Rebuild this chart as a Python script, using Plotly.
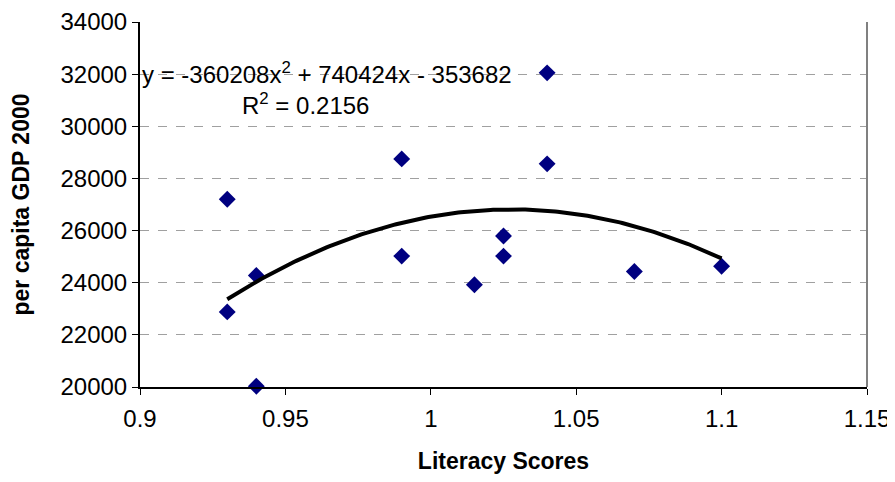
import numpy as np
import plotly.graph_objects as go

literacy = [0.93, 0.93, 0.94, 0.94, 0.99, 0.99, 1.015, 1.025, 1.025, 1.04, 1.04, 1.07, 1.10]
gdp = [27200, 22880, 24280, 20030, 28750, 25020, 23920, 25790, 25020, 28560, 32050, 24430, 24630]

coef = [-360208, 740424, -353682]
fit_x = np.linspace(min(literacy), max(literacy), 200)
fit_y = np.polyval(coef, fit_x)

x_ticks = [0.9, 0.95, 1.0, 1.05, 1.1, 1.15]
x_tick_labels = ["0.9", "0.95", "1", "1.05", "1.1", "1.15"]
y_ticks = list(range(20000, 34001, 2000))
y_tick_labels = [str(v) for v in y_ticks]

FONT = "Liberation Sans, Arial, sans-serif"

fig = go.Figure()
fig.add_trace(go.Scatter(x=literacy, y=gdp, mode="markers",
                         marker=dict(symbol="diamond", size=13, color="#000080"),
                         showlegend=False, cliponaxis=False))
fig.add_trace(go.Scatter(x=fit_x, y=fit_y, mode="lines",
                         line=dict(color="black", width=4), showlegend=False))

fig.update_layout(
    width=887, height=466,
    margin=dict(l=132, r=28, t=14, b=87),
    paper_bgcolor="white", plot_bgcolor="white",
    font=dict(family=FONT, size=24, color="black"),
    xaxis=dict(range=[0.9, 1.15], tickvals=x_ticks, ticktext=x_tick_labels,
               tickfont=dict(family=FONT, size=24, color="black"),
               automargin=False, ticklabelstandoff=3,
               showgrid=False, zeroline=False, showline=True, linecolor="black", linewidth=2,
               ticks="outside", ticklen=6, tickcolor="black",
               title=dict(text="<b>Literacy Scores</b>", font=dict(family=FONT, size=23, color="black"), standoff=31)),
    yaxis=dict(range=[20000, 34000], tickvals=y_ticks, ticktext=y_tick_labels,
               tickfont=dict(family=FONT, size=24, color="black"),
               automargin=False,
               showgrid=True, gridcolor="#a0a0a0", griddash="dash", gridwidth=1,
               zeroline=False, showline=True, linecolor="black", linewidth=2,
               ticks="outside", ticklen=6, tickcolor="black",
               title=dict(text="<b>per capita GDP 2000</b>", font=dict(family=FONT, size=23, color="black"), standoff=33)),
    shapes=[dict(type="line", xref="paper", yref="paper", x0=1, x1=1, y0=0, y1=1,
                 line=dict(color="#808080", width=2))],
    annotations=[
        dict(text="y = -360208x<sup>2</sup> + 740424x - 353682", x=0.0, y=32050,
             xref="paper", yref="y", xanchor="left", yanchor="middle", showarrow=False,
             font=dict(family=FONT, size=24, color="black")),
        dict(text="R<sup>2</sup> = 0.2156", x=0.228, y=30850,
             xref="paper", yref="y", xanchor="center", yanchor="middle", showarrow=False,
             font=dict(family=FONT, size=24, color="black")),
    ],
)

fig.write_html("out.html")
